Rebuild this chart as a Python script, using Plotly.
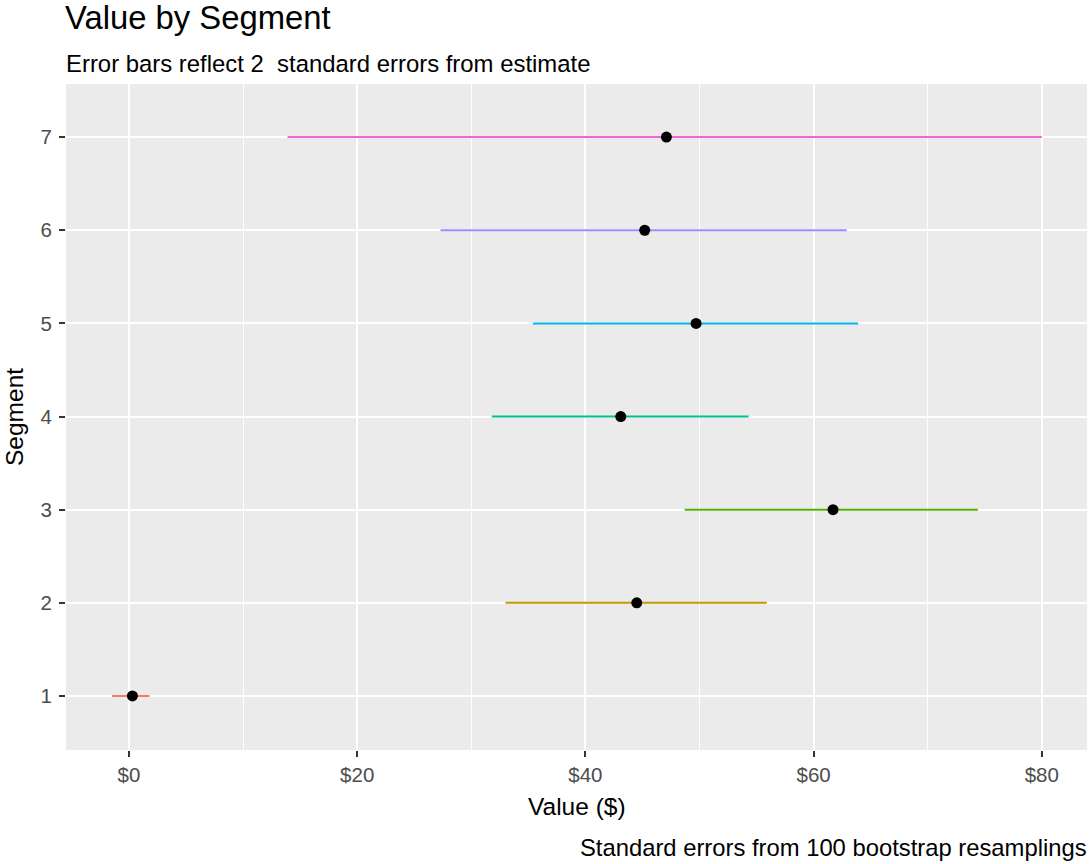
import plotly.graph_objects as go

# Data
segments = [1, 2, 3, 4, 5, 6, 7]
estimate = [0.3, 44.5, 61.7, 43.1, 49.7, 45.2, 47.1]
lower = [-1.5, 33.0, 48.7, 31.8, 35.4, 27.3, 13.9]
upper = [1.8, 55.9, 74.4, 54.3, 63.9, 62.9, 80.0]
colors = ["#F8766D", "#C49A00", "#53B400", "#00C094", "#00B6EB", "#A58AFF", "#FB61D7"]
x_ticks = [0, 20, 40, 60, 80]
x_tick_labels = ["$0", "$20", "$40", "$60", "$80"]
x_minor = [10, 30, 50, 70]

FONT = "Liberation Sans, Arial, sans-serif"

fig = go.Figure()
for seg, est, lo, hi, col in zip(segments, estimate, lower, upper, colors):
    fig.add_trace(go.Scatter(
        x=[est], y=[seg], mode="markers",
        marker=dict(color="black", size=11),
        error_x=dict(type="data", symmetric=False,
                     array=[hi - est], arrayminus=[est - lo],
                     color=col, thickness=2, width=0),
        showlegend=False, hoverinfo="x+y",
    ))

W, H = 1089, 864
L, R, T, B = 66, 2, 84, 114
ph = H - T - B
pw = W - L - R

fig.update_layout(
    width=W, height=H,
    margin=dict(l=L, r=R, t=T, b=B),
    paper_bgcolor="white",
    plot_bgcolor="#EBEBEB",
    font=dict(family=FONT, color="black"),
    xaxis=dict(
        range=[-5.52, 83.96], tickvals=x_ticks, ticktext=x_tick_labels,
        showgrid=True, gridcolor="white", gridwidth=2,
        zeroline=False, showline=False,
        ticks="outside", ticklen=6, tickwidth=1.5, tickcolor="#333333",
        tickfont=dict(size=20.5, color="#4D4D4D", family=FONT),
        minor=dict(tickvals=x_minor, showgrid=True,
                   gridcolor="white", gridwidth=1.2, ticks=""),
    ),
    yaxis=dict(
        range=[0.42, 7.57], tickvals=segments,
        ticktext=[str(s) for s in segments],
        showgrid=True, gridcolor="white", gridwidth=2,
        zeroline=False, showline=False,
        ticks="outside", ticklen=6, tickwidth=1.5, tickcolor="#333333",
        tickfont=dict(size=20.5, color="#4D4D4D", family=FONT),
        ticklabelstandoff=3,
    ),
    annotations=[
        dict(text="Value by Segment", xref="paper", yref="paper",
             x=0, y=1 + (T - 17) / ph, xanchor="left", yanchor="middle",
             xshift=-3,
             showarrow=False, font=dict(size=32.8, family=FONT, color="black")),
        dict(text="Error bars reflect 2  standard errors from estimate",
             xref="paper", yref="paper",
             x=0, y=1 + (T - 63) / ph, xanchor="left", yanchor="middle",
             xshift=-2,
             showarrow=False, font=dict(size=23.9, family=FONT, color="black")),
        dict(text="Value ($)", xref="paper", yref="paper",
             x=0.5, y=-(806 - (H - B)) / ph, xanchor="center", yanchor="middle",
             showarrow=False, font=dict(size=24.5, family=FONT, color="black")),
        dict(text="Segment", xref="paper", yref="paper",
             x=(14 - L) / pw, y=0.5, xanchor="center", yanchor="middle",
             textangle=-90,
             showarrow=False, font=dict(size=24.5, family=FONT, color="black")),
        dict(text="Standard errors from 100 bootstrap resamplings",
             xref="paper", yref="paper",
             x=1, y=-(848 - (H - B)) / ph, xanchor="right", yanchor="middle",
             xshift=2,
             showarrow=False, font=dict(size=23.8, family=FONT, color="black")),
    ],
)

fig.write_html("out.html")
